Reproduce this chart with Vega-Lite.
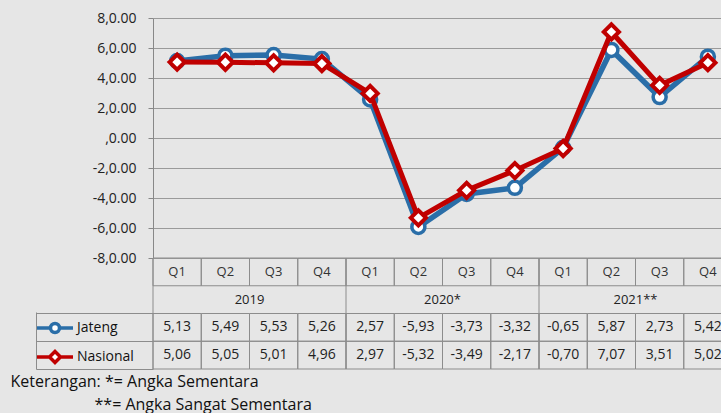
{
  "$schema": "https://vega.github.io/schema/vega-lite/v6.json",
  "background": "#e6e6e6",
  "padding": {"left": 10, "top": 11, "right": 0, "bottom": 0},
  "config": {
    "locale": {"number": {"decimal": ",", "thousands": ".", "grouping": [3], "currency": ["", ""], "minus": "-"}},
    "font": "Open Sans",
    "view": {"stroke": null},
    "concat": {"spacing": 0}
  },
  "datasets": {
    "d": [
      {"year": "2019", "q": "Q1", "key": "2019 Q1", "series": "Jateng", "value": 5.13},
      {"year": "2019", "q": "Q2", "key": "2019 Q2", "series": "Jateng", "value": 5.49},
      {"year": "2019", "q": "Q3", "key": "2019 Q3", "series": "Jateng", "value": 5.53},
      {"year": "2019", "q": "Q4", "key": "2019 Q4", "series": "Jateng", "value": 5.26},
      {"year": "2020*", "q": "Q1", "key": "2020 Q1", "series": "Jateng", "value": 2.57},
      {"year": "2020*", "q": "Q2", "key": "2020 Q2", "series": "Jateng", "value": -5.93},
      {"year": "2020*", "q": "Q3", "key": "2020 Q3", "series": "Jateng", "value": -3.73},
      {"year": "2020*", "q": "Q4", "key": "2020 Q4", "series": "Jateng", "value": -3.32},
      {"year": "2021**", "q": "Q1", "key": "2021 Q1", "series": "Jateng", "value": -0.65},
      {"year": "2021**", "q": "Q2", "key": "2021 Q2", "series": "Jateng", "value": 5.87},
      {"year": "2021**", "q": "Q3", "key": "2021 Q3", "series": "Jateng", "value": 2.73},
      {"year": "2021**", "q": "Q4", "key": "2021 Q4", "series": "Jateng", "value": 5.42},
      {"year": "2019", "q": "Q1", "key": "2019 Q1", "series": "Nasional", "value": 5.06},
      {"year": "2019", "q": "Q2", "key": "2019 Q2", "series": "Nasional", "value": 5.05},
      {"year": "2019", "q": "Q3", "key": "2019 Q3", "series": "Nasional", "value": 5.01},
      {"year": "2019", "q": "Q4", "key": "2019 Q4", "series": "Nasional", "value": 4.96},
      {"year": "2020*", "q": "Q1", "key": "2020 Q1", "series": "Nasional", "value": 2.97},
      {"year": "2020*", "q": "Q2", "key": "2020 Q2", "series": "Nasional", "value": -5.32},
      {"year": "2020*", "q": "Q3", "key": "2020 Q3", "series": "Nasional", "value": -3.49},
      {"year": "2020*", "q": "Q4", "key": "2020 Q4", "series": "Nasional", "value": -2.17},
      {"year": "2021**", "q": "Q1", "key": "2021 Q1", "series": "Nasional", "value": -0.70},
      {"year": "2021**", "q": "Q2", "key": "2021 Q2", "series": "Nasional", "value": 7.07},
      {"year": "2021**", "q": "Q3", "key": "2021 Q3", "series": "Nasional", "value": 3.51},
      {"year": "2021**", "q": "Q4", "key": "2021 Q4", "series": "Nasional", "value": 5.02}
    ]
  },
  "title": {
    "text": ["Keterangan: *= Angka Sementara", "\u2800\u2800\u2800\u2800\u2800\u2800\u2800**= Angka Sangat Sementara"],
    "orient": "bottom", "anchor": "start", "frame": "bounds", "dx": -25,
    "fontSize": 16, "fontWeight": "normal", "color": "#111", "lineHeight": 23, "offset": 4
  },
  "bounds": "flush",
  "resolve": {"scale": {"x": "shared", "y": "independent", "color": "shared"}},
  "vconcat": [
    {
      "width": 579, "height": 240,
      "data": {"name": "d"},
      "encoding": {
        "x": {"field": "key", "type": "nominal", "sort": null, "scale": {"type": "band", "paddingInner": 0, "paddingOuter": 0}, "axis": null},
        "y": {"field": "value", "type": "quantitative",
              "scale": {"domain": [-8, 8], "nice": false, "zero": false},
              "axis": {"values": [-8, -6, -4, -2, 0, 2, 4, 6, 8],
                       "labelExpr": "datum.value == 0 ? ',0.00' : datum.value + ',0.00'",
                       "grid": true, "gridColor": "#9a9a9a", "domainColor": "#888", "tickColor": "#888",
                       "tickSize": 5, "labelPadding": 12, "labelFontSize": 14, "labelColor": "#222", "title": null}}
      },
      "layer": [
        {"transform": [{"filter": "datum.series == 'Jateng'"}],
         "mark": {"type": "line", "strokeWidth": 5.5},
         "encoding": {"color": {"field": "series", "type": "nominal",
            "scale": {"domain": ["Jateng", "Nasional"], "range": ["#2a6ea8", "#c00000"]},
            "legend": {"orient": "none", "legendX": -110, "legendY": 298, "title": null,
                       "symbolSize": 400, "labelFontSize": 14, "labelColor": "#111", "labelOffset": 10, "rowPadding": 4,
                       "encode": {"symbols": {"update": {
                          "shape": {"signal": "datum.value == 'Jateng' ? 'M-1.8,0H-0.45M0.45,0H1.8M-0.45,0A0.45,0.45,0,1,1,0.45,0A0.45,0.45,0,1,1,-0.45,0Z' : 'M-1.8,0H-0.55M0.55,0H1.8M-0.55,0L0,-0.55L0.55,0L0,0.55Z'"},
                          "fill": {"value": "white"},
                          "stroke": {"signal": "datum.value == 'Jateng' ? '#2a6ea8' : '#c00000'"},
                          "strokeWidth": {"value": 3.5},
                          "opacity": {"value": 1}}}}}}}},
        {"transform": [{"filter": "datum.series == 'Jateng'"}],
         "mark": {"type": "point", "shape": "circle", "filled": true, "fill": "white", "stroke": "#2a6ea8", "strokeWidth": 3.5, "size": 170, "opacity": 1}},
        {"transform": [{"filter": "datum.series == 'Nasional'"}],
         "mark": {"type": "line", "strokeWidth": 5},
         "encoding": {"color": {"field": "series", "type": "nominal"}}},
        {"transform": [{"filter": "datum.series == 'Nasional'"}],
         "mark": {"type": "point", "shape": "diamond", "filled": true, "fill": "white", "stroke": "#c00000", "strokeWidth": 4, "size": 230, "opacity": 1}}
      ]
    },
    {
      "width": 579, "height": 111,
      "data": {"name": "d"},
      "encoding": {
        "x": {"field": "key", "type": "nominal", "sort": null, "axis": null}
      },
      "layer": [
        {"mark": {"type": "rect", "fillOpacity": 0, "stroke": "#8c8c8c", "strokeWidth": 1},
         "encoding": {"y": {"field": "series", "type": "nominal",
            "scale": {"domain": ["Q", "Tahun", "Jateng", "Nasional"], "paddingInner": 0, "paddingOuter": 0},
            "axis": {"orient": "left", "offset": 117, "zindex": 1, "labels": false, "grid": false, "title": null,
                     "domain": true, "domainColor": "#8c8c8c", "domainDash": [0, 54, 200],
                     "ticks": true, "bandPosition": 1, "tickExtra": false, "tickSize": -117, "tickWidth": 1,
                     "tickColor": {"condition": {"test": "datum.value != 'Q'", "value": "#8c8c8c"}, "value": "transparent"}}}}},
        {"transform": [{"filter": "datum.series == 'Jateng'"}],
         "mark": {"type": "rect", "fillOpacity": 0, "stroke": "#8c8c8c", "strokeWidth": 1},
         "encoding": {"y": {"datum": "Q"}}},
        {"transform": [{"filter": "datum.series == 'Jateng' && datum.q == 'Q1'"}],
         "mark": {"type": "rule", "stroke": "#8c8c8c", "strokeWidth": 1},
         "encoding": {"x": {"field": "key", "type": "nominal", "sort": null, "bandPosition": 0}}},
        {"mark": {"type": "text", "fontSize": 14, "color": "#222"},
         "encoding": {"y": {"field": "series", "type": "nominal"}, "text": {"field": "value", "type": "quantitative", "format": ".2f"}}},
        {"transform": [{"filter": "datum.series == 'Jateng'"}],
         "mark": {"type": "text", "fontSize": 13, "color": "#333"},
         "encoding": {"y": {"datum": "Q"}, "text": {"field": "q"}}},
        {"transform": [{"filter": "datum.series == 'Jateng' && datum.q == 'Q2'"}],
         "mark": {"type": "text", "fontSize": 13, "color": "#222"},
         "encoding": {"x": {"field": "key", "type": "nominal", "sort": null, "bandPosition": 1}, "y": {"datum": "Tahun"}, "text": {"field": "year"}}}
      ]
    }
  ]
}
